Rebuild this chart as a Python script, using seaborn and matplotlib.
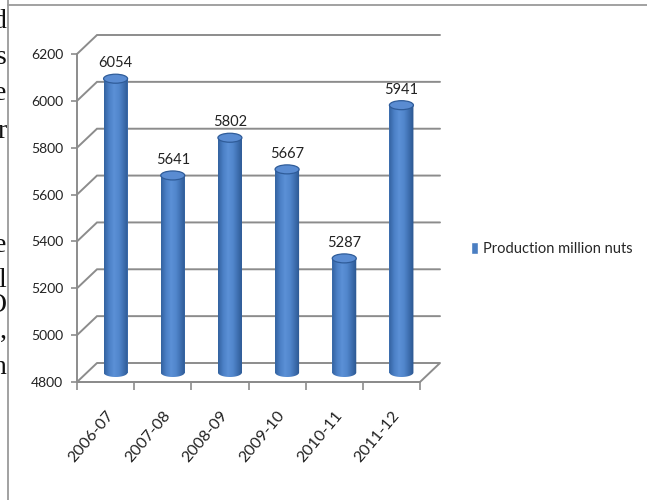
import numpy as np
import pandas as pd
import matplotlib
matplotlib.use("Agg")
import matplotlib.pyplot as plt
import seaborn as sns
from matplotlib.patches import Ellipse, PathPatch, Patch
from matplotlib.path import Path
from matplotlib.lines import Line2D
from matplotlib.colors import LinearSegmentedColormap

# ---- data ----
categories = ["2006-07", "2007-08", "2008-09", "2009-10", "2010-11", "2011-12"]
production = [6054, 5641, 5802, 5667, 5287, 5941]
y_ticks = [4800, 5000, 5200, 5400, 5600, 5800, 6000, 6200]
series_name = "Production million nuts"
side_letters = ["d", "s", "e", "r", "e", "l", "O", ",", "n"]
side_letters_y = [28, 64, 100, 138, 252, 287, 312, 338, 374]

sns.set_theme(style="white")
plt.rcParams["font.family"] = ["Lato", "DejaVu Sans"]

W, H = 647, 500
fig = plt.figure(figsize=(W / 100, H / 100), dpi=100)
fig.patch.set_facecolor("white")

# geometry (pixels)
front_left, front_right = 77, 420
back_right = 440
y_front_top, y_bottom, y_back_top = 54, 382, 35
unit_x = (front_right - front_left) / len(categories)
dxc = (back_right - front_right) / unit_x
unit_y = (y_bottom - y_front_top) / (y_ticks[-1] - y_ticks[0])
dyv = (y_front_top - y_back_top) / unit_y
eh = 9 / unit_y

ax = fig.add_axes([front_left / W, 1 - y_bottom / H,
                   (back_right - front_left) / W, (y_bottom - y_back_top) / H])
ax.set_facecolor("none")

df = pd.DataFrame({"period": categories, "production": production})
sns.barplot(data=df, x="period", y="production", ax=ax, width=0.42,
            color="#4a7ec2", saturation=1, zorder=2.5)
bars = list(ax.patches)

ymin = y_ticks[0]
xlo, xhi = -0.5, len(categories) - 0.5
grid_c = "#8c8c8c"

# back wall gridlines + side wall diagonals
for v in y_ticks[1:]:
    ax.plot([xlo, xlo + dxc, xhi + dxc], [v, v + dyv, v + dyv],
            color=grid_c, lw=1.4, zorder=1, clip_on=False, solid_joinstyle="miter")
# floor
ax.plot([xlo, xlo + dxc, xhi + dxc, xhi, xlo],
        [ymin, ymin + dyv, ymin + dyv, ymin, ymin],
        color=grid_c, lw=1.4, zorder=1, clip_on=False)

cmap = LinearSegmentedColormap.from_list(
    "cyl", ["#33629f", "#4b80c6", "#5b90d6", "#5287cd", "#3e6fb0", "#2a568f"])
grad = np.linspace(0, 1, 64).reshape(1, -1)

for patch, v in zip(bars, production):
    w = patch.get_width()
    x0 = patch.get_x() + dxc / 2
    y0 = ymin + dyv / 2
    patch.set_x(x0)
    patch.set_y(y0)
    patch.set_height(v - ymin)
    patch.set_edgecolor("none")
    top = v + dyv / 2
    cx = x0 + w / 2
    t = np.linspace(np.pi, 2 * np.pi, 50)
    arc = np.column_stack([cx + w / 2 * np.cos(t), y0 + eh / 2 * np.sin(t)])
    verts = [(x0, top)] + [tuple(p) for p in arc] + [(x0 + w, top), (x0, top)]
    codes = [Path.MOVETO] + [Path.LINETO] * (len(verts) - 2) + [Path.CLOSEPOLY]
    clip = PathPatch(Path(verts, codes), transform=ax.transData,
                     facecolor="none", edgecolor="none")
    ax.add_patch(clip)
    im = ax.imshow(grad, extent=[x0, x0 + w, y0 - eh / 2, top], cmap=cmap,
                   aspect="auto", origin="lower", zorder=3, interpolation="bilinear")
    im.set_clip_path(clip)
    ax.add_patch(Ellipse((cx, top), w, eh, facecolor="#5a8cd2",
                         edgecolor="#2f5c99", lw=0.9, zorder=4))
    ax.annotate(f"{v}", (cx, top), xytext=(0, 6), textcoords="offset points",
                ha="center", va="bottom", fontsize=10.5, color="#222222", zorder=5)

ax.set_xlim(xlo, xhi + dxc)
ax.set_ylim(ymin, y_ticks[-1] + dyv)

for s in ["top", "right"]:
    ax.spines[s].set_visible(False)
ax.spines["left"].set_color(grid_c)
ax.spines["left"].set_linewidth(1.4)
ax.spines["left"].set_bounds(ymin, y_ticks[-1])
ax.spines["bottom"].set_color(grid_c)
ax.spines["bottom"].set_linewidth(1.4)
ax.spines["bottom"].set_bounds(xlo, xhi)

ax.set_yticks(y_ticks)
ax.set_yticklabels([str(v) for v in y_ticks])
ax.tick_params(axis="y", length=4, width=1.2, color=grid_c, pad=6,
               labelsize=10, labelcolor="#222222", left=True)
ax.set_xticks(range(len(categories)))
ax.set_xticks(np.arange(xlo, xhi + 0.01, 1.0), minor=True)
ax.set_xticklabels(categories, rotation=50, ha="right", rotation_mode="anchor")
ax.tick_params(axis="x", which="major", length=0, pad=19, labelsize=11.5,
               labelcolor="#222222")
ax.tick_params(axis="x", which="minor", length=6, width=1.2, color=grid_c,
               bottom=True)
ax.set_xlabel("")
ax.set_ylabel("")

# legend
fig.legend(handles=[Patch(facecolor="#4a7ec2", label=series_name)],
           loc="center left", bbox_to_anchor=(471 / W, 1 - 249 / H),
           frameon=False, fontsize=10.5, handlelength=0.5, handleheight=0.9,
           handletextpad=0.35, borderpad=0, borderaxespad=0)

# outer frame
fig.add_artist(Line2D([8 / W, 8 / W], [0, 1], color="#9a9a9a", lw=1.3))
fig.add_artist(Line2D([8 / W, 1], [1 - 5 / H, 1 - 5 / H], color="#9a9a9a", lw=1.3))

# clipped document text on the left edge
for ch, yy in zip(side_letters, side_letters_y):
    fig.text(6.5 / W, 1 - yy / H, ch, ha="right", va="baseline",
             family=["Liberation Serif", "DejaVu Serif"], fontsize=20, color="#111111")

fig.savefig("out.png", dpi=100)
